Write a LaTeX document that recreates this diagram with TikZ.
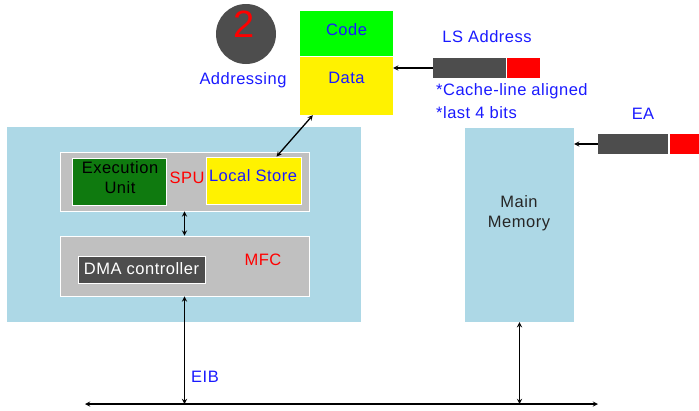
\documentclass[tikz,border=0pt]{standalone}
\usepackage{fontspec}
\setmainfont[LetterSpace=3]{Liberation Sans}
\usetikzlibrary{arrows, positioning, calc}
\definecolor{cellblue}{HTML}{ADD8E6}
\definecolor{boxgray}{HTML}{C0C0C0}
\definecolor{darkgray}{HTML}{4D4D4D}
\definecolor{exgreen}{HTML}{0F7A0F}
\definecolor{txtblue}{HTML}{1A1AFF}

\begin{document}
\begin{tikzpicture}[x=1pt, y=-1pt, >=stealth, font=\fontsize{16.5}{20}\selectfont]
      \useasboundingbox (0,0) rectangle (699,410);
      \tikzset{
        block/.style={draw=none, inner sep=0pt, minimum width=#1},
        subbox/.style={draw=white, line width=0.8pt, inner sep=0pt},
        bluetext/.style={text=txtblue, inner sep=0pt},
        redtext/.style={text=red, inner sep=0pt},
        link/.style={draw=black, line width=1.3pt}
      }
      % cell and main memory
      \node[block=354, fill=cellblue, minimum height=195] (cell) at (184,224.5) {};
      \node[block=109, fill=cellblue, minimum height=194, align=center] (mem) at (519.5,225) {};
      \node[inner sep=0pt, align=center, text=black!85] (memtext) at (519,213) {Main\\Memory};
      % SPU
      \node[subbox, fill=boxgray, minimum width=249, minimum height=59] (spu) at (184.5,181.5) {};
      \node[subbox, fill=exgreen, minimum width=94, minimum height=47] (exec) at (119,181.5) {};
      \node[inner sep=0pt, align=center] (exectext) at (120,177.5) {Execution\\Unit};
      \node[subbox, fill=yellow, minimum width=95, minimum height=47] (ls) at (253.5,180.5) {};
      \node[bluetext] (lstext) at (253,176) {Local Store};
      \node[redtext] (spulabel) at (187,178) {SPU};
      % MFC
      \node[subbox, fill=boxgray, minimum width=249, minimum height=60] (mfc) at (184.5,266) {};
      \node[subbox, fill=darkgray, minimum width=127, minimum height=27] (dma) at (141.5,269.5) {};
      \node[inner sep=0pt, text=white] (dmatext) at (141.5,268.5) {DMA controller};
      \node[redtext] (mfclabel) at (263,260) {MFC};
      % local store contents
      \node[block=93, fill=green, minimum height=45] (code) at (346.5,33.5) {};
      \node[bluetext] (codetext) at (346.5,30) {Code};
      \node[block=93, fill=yellow, minimum height=58] (data) at (346.5,86) {};
      \node[bluetext] (datatext) at (346.5,78) {Data};
      % addressing mark
      \node[circle, fill=darkgray, minimum size=60, inner sep=0pt] (mark) at (246,34) {};
      \node[redtext, font=\fontsize{38}{38}\selectfont] (marknum) at (244,24) {2};
      \node[bluetext] (addr) at (243,80) {Addressing};
      % addresses
      \node[block=73, fill=darkgray, minimum height=20] (lsgray) at (469.5,68) {};
      \node[block=33, fill=red, minimum height=20] (lsred) at (523.5,68) {};
      \node[bluetext] (lsaddr) at (487,37) {LS Address};
      \node[bluetext, anchor=west] (note1) at (436,91) {*Cache-line aligned};
      \node[bluetext, anchor=west] (note2) at (436,113) {*last 4 bits};
      \node[block=70, fill=darkgray, minimum height=20] (eagray) at (633,144) {};
      \node[block=30, fill=red, minimum height=20] (eared) at (684.5,144) {};
      \node[bluetext] (ea) at (643,114) {EA};
      \node[bluetext] (eib) at (205,377) {EIB};
      % bus
      \coordinate (busl) at (85,404);
      \coordinate (busr) at (598,404);
      \draw[link, <->] (busl) -- (busr);
      \draw[link, <->] (mfc.south) -- (mfc.south |- busl);
      \draw[link, <->] (mem.south) -- (mem.south |- busl);
      \draw[link, <->] (spu.south) -- (mfc.north);
      \draw[link, <->] ($(ls.north)+(23,0)$) -- ($(data.south west)+(13,0)$);
      \draw[link, ->] (lsgray.west) -- (lsgray.west -| data.east);
      \draw[link, ->] (eagray.west) -- (eagray.west -| mem.east);
\end{tikzpicture}
\end{document}
